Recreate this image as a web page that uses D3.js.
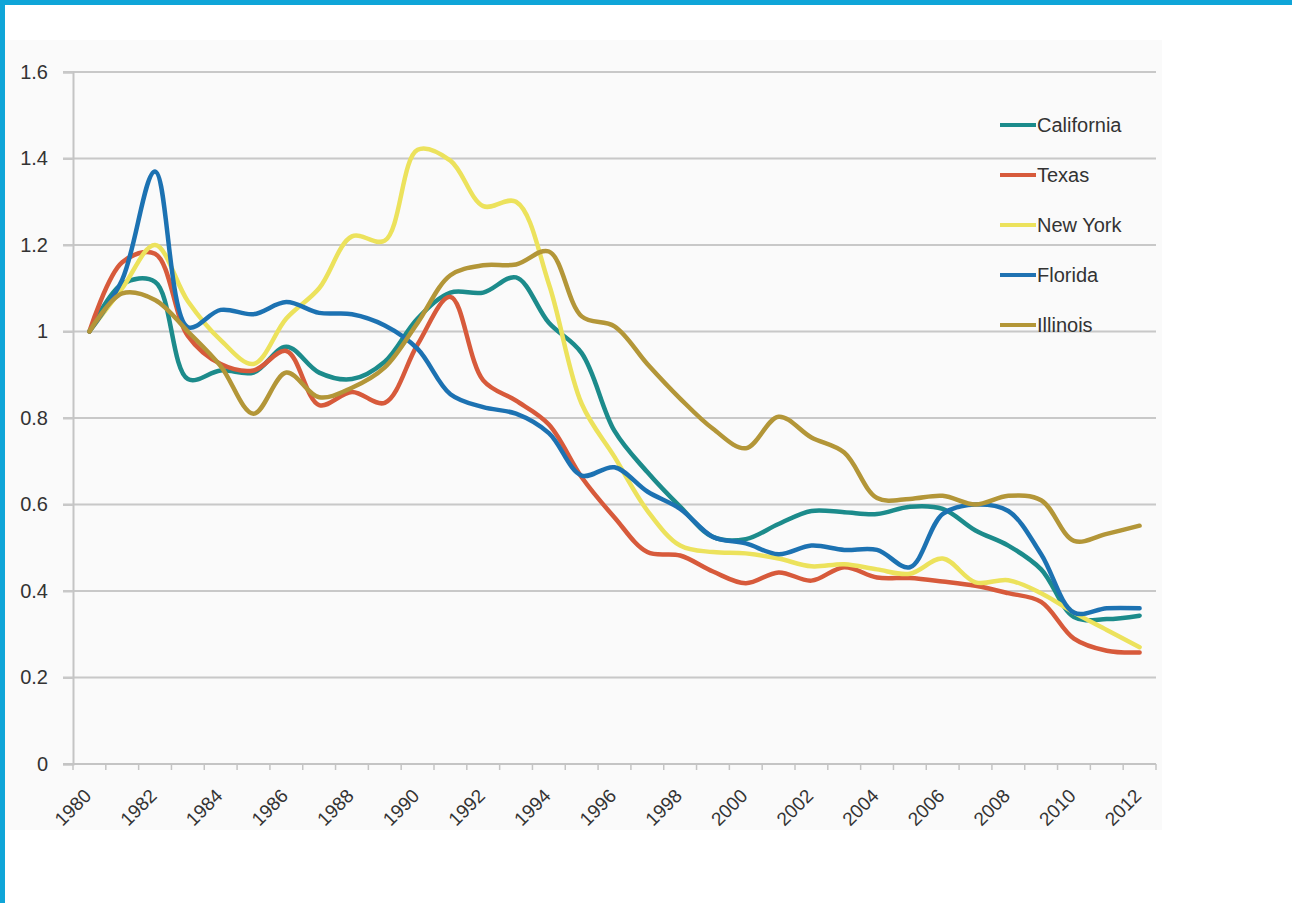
<!DOCTYPE html>
<html>
<head>
<meta charset="utf-8">
<script src="https://cdn.jsdelivr.net/npm/d3@7/dist/d3.min.js"></script>
<style>
  html, body { margin: 0; padding: 0; background: #fff; }
  svg { display: block; }
  text { font-family: 'Liberation Sans', Arial, sans-serif; fill: #333; }
</style>
</head>
<body>
<div id="chart"></div>
<script>
'use strict';

var years = d3.range(1980, 2013);
var yTicks = [0, 0.2, 0.4, 0.6, 0.8, 1, 1.2, 1.4, 1.6];
var xLabels = years.filter(function (y) { return y % 2 === 0; });
var stateNames = ['California', 'Texas', 'New York', 'Florida', 'Illinois'];
var stateColors = ['#1b8b8b', '#d75a3b', '#ece25c', '#1f72b2', '#b39637'];

var california = [1.0, 1.11, 1.115, 0.89, 0.91, 0.905, 0.965, 0.905, 0.89, 0.93,
  1.03, 1.09, 1.09, 1.125, 1.02, 0.95, 0.77, 0.675, 0.595, 0.525,
  0.52, 0.555, 0.585, 0.582, 0.578, 0.595, 0.59, 0.54, 0.505, 0.45,
  0.34, 0.335, 0.343];
var texas = [1.0, 1.16, 1.18, 0.99, 0.925, 0.91, 0.955, 0.83, 0.86, 0.835,
  0.97, 1.08, 0.887, 0.84, 0.785, 0.663, 0.57, 0.49, 0.482, 0.445,
  0.418, 0.443, 0.424, 0.455, 0.431, 0.43, 0.422, 0.412, 0.395, 0.375,
  0.29, 0.262, 0.258];
var newYork = [1.0, 1.1, 1.2, 1.07, 0.98, 0.925, 1.03, 1.1, 1.22, 1.21,
  1.42, 1.395, 1.29, 1.3, 1.11, 0.833, 0.71, 0.586, 0.505, 0.49,
  0.487, 0.475, 0.457, 0.462, 0.45, 0.44, 0.475, 0.42, 0.425, 0.395,
  0.35, 0.31, 0.27];
var florida = [1.0, 1.12, 1.37, 1.01, 1.05, 1.04, 1.068, 1.043, 1.04, 1.014,
  0.96, 0.855, 0.825, 0.81, 0.765, 0.667, 0.686, 0.63, 0.59, 0.525,
  0.51, 0.485, 0.505, 0.495, 0.495, 0.455, 0.578, 0.6, 0.585, 0.485,
  0.35, 0.36, 0.36];
var illinois = [1.0, 1.088, 1.073, 1.0, 0.92, 0.81, 0.905, 0.848, 0.87, 0.917,
  1.02, 1.13, 1.153, 1.155, 1.185, 1.035, 1.012, 0.925, 0.845, 0.775,
  0.73, 0.803, 0.755, 0.72, 0.615, 0.613, 0.62, 0.6, 0.62, 0.61,
  0.516, 0.532, 0.551];

var seriesValues = [california, texas, newYork, florida, illinois];

var W = 1292, H = 903;
var plot = {left: 73, right: 1156, top: 72, bottom: 764};

var svg = d3.select('#chart').append('svg')
  .attr('width', W)
  .attr('height', H);

// frame
svg.append('rect').attr('x', 0).attr('y', 0).attr('width', W).attr('height', H).attr('fill', '#fff');
svg.append('rect').attr('x', 5).attr('y', 40).attr('width', 1157).attr('height', 790).attr('fill', '#fafafa');
svg.append('rect').attr('x', 0).attr('y', 0).attr('width', W).attr('height', 5).attr('fill', '#0fa5d8');
svg.append('rect').attr('x', 0).attr('y', 0).attr('width', 5).attr('height', H).attr('fill', '#0fa5d8');

// slight softening, like the scaled-up original
svg.append('defs').append('filter')
  .attr('id', 'soft')
  .attr('filterUnits', 'userSpaceOnUse')
  .attr('x', 0).attr('y', 0).attr('width', W).attr('height', H)
  .append('feGaussianBlur').attr('stdDeviation', 0.6);

var xBand = d3.scaleBand().domain(years).range([plot.left, plot.right]);
var xMid = function (year) { return xBand(year) + xBand.bandwidth() / 2; };
var y = d3.scaleLinear().domain([0, 1.6]).range([plot.bottom, plot.top]);

var g = svg.append('g');

// gridlines
g.append('g')
  .attr('filter', 'url(#soft)')
  .selectAll('line.grid')
  .data(yTicks.filter(function (t) { return t > 0; }))
  .enter().append('line')
  .attr('class', 'grid')
  .attr('x1', plot.left - 10)
  .attr('x2', plot.right)
  .attr('y1', function (d) { return y(d); })
  .attr('y2', function (d) { return y(d); })
  .attr('stroke', '#c8c8c8')
  .attr('stroke-width', 2);

// y axis
var yAxis = g.append('g')
  .attr('transform', 'translate(' + plot.left + ',0)')
  .call(d3.axisLeft(y).tickValues(yTicks).tickSize(10).tickFormat(function (d) { return String(+d.toFixed(1)); }));
yAxis.select('.domain').attr('stroke', '#c4c4c4').attr('stroke-width', 2);
yAxis.selectAll('.tick line').attr('stroke', '#c8c8c8').attr('stroke-width', 2);
yAxis.selectAll('.tick text')
  .attr('x', -25)
  .style('font-size', '20px')
  .style('font-family', "'Liberation Sans', Arial, sans-serif")
  .attr('fill', '#333');

// x axis
var xAxis = g.append('g')
  .attr('transform', 'translate(0,' + plot.bottom + ')');
xAxis.append('line')
  .attr('x1', plot.left - 10).attr('x2', plot.right)
  .attr('stroke', '#c4c4c4').attr('stroke-width', 2);
xAxis.selectAll('line.tick')
  .data(years.concat([2013]))
  .enter().append('line')
  .attr('class', 'tick')
  .attr('x1', function (d, i) { return plot.left + i * xBand.step(); })
  .attr('x2', function (d, i) { return plot.left + i * xBand.step(); })
  .attr('y1', 0).attr('y2', 6)
  .attr('stroke', '#c4c4c4').attr('stroke-width', 1.5);
xAxis.selectAll('text')
  .data(xLabels)
  .enter().append('text')
  .attr('transform', function (d) {
    return 'translate(' + (xMid(d) + 3) + ',33) rotate(-45)';
  })
  .attr('text-anchor', 'end')
  .style('font-size', '19px')
  .text(function (d) { return d; });

// lines
var line = d3.line()
  .x(function (d, i) { return xMid(years[i]); })
  .y(function (d) { return y(d); })
  .curve(d3.curveCatmullRom.alpha(0.5));

g.append('g')
  .attr('filter', 'url(#soft)')
  .selectAll('path.series')
  .data(seriesValues)
  .enter().append('path')
  .attr('class', 'series')
  .attr('d', line)
  .attr('fill', 'none')
  .attr('stroke', function (d, i) { return stateColors[i]; })
  .attr('stroke-width', 4.5)
  .attr('stroke-linejoin', 'round')
  .attr('stroke-linecap', 'round');

// legend
var legend = g.append('g').attr('transform', 'translate(1000,125)');
var item = legend.selectAll('g.item')
  .data(stateNames)
  .enter().append('g')
  .attr('class', 'item')
  .attr('transform', function (d, i) { return 'translate(0,' + i * 50 + ')'; });
item.append('line')
  .attr('x1', 0).attr('x2', 36)
  .attr('stroke', function (d, i) { return stateColors[i]; })
  .attr('stroke-width', 4);
item.append('text')
  .attr('x', 37)
  .attr('dy', '0.35em')
  .style('font-size', '20px')
  .text(function (d) { return d; });
</script>
</body>
</html>
